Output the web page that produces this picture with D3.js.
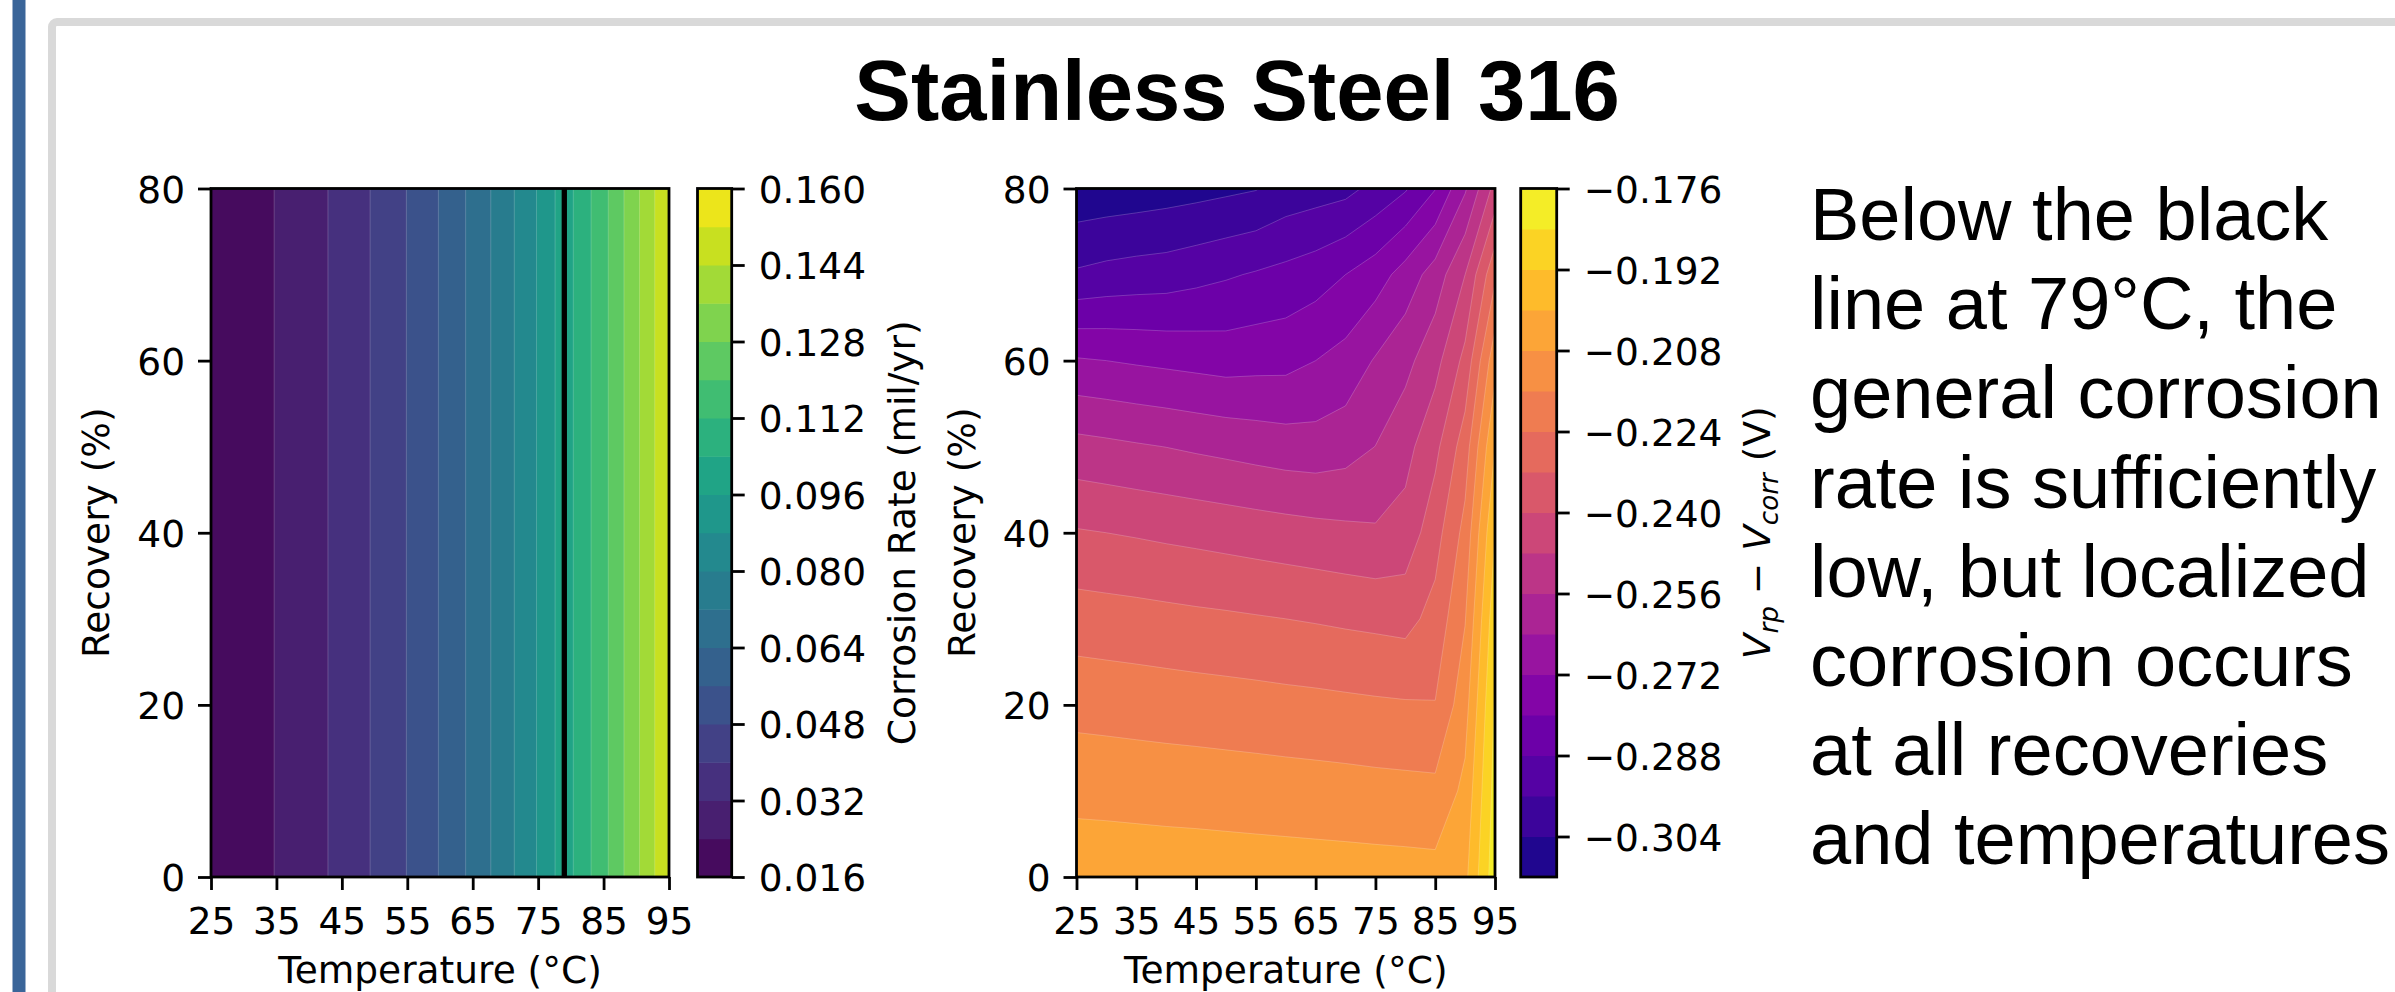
<!DOCTYPE html>
<html><head><meta charset="utf-8">
<script src="https://cdn.jsdelivr.net/npm/d3@7"></script>
<style>body{margin:0;background:#fff;}svg{display:block;}</style>
</head><body>
<svg id="c" width="2395" height="992"></svg>
<script>
// ---------------- data ----------------
const temperatures = [25,30,35,40,45,50,55,60,65,70,75,80,85,90,95];
const recoveries   = [0,10,20,30,40,50,60,70,80];
// general corrosion rate (mil/yr) vs temperature (independent of recovery)
const corrosionRate = [0.0165,0.0200,0.0243,0.0289,0.0343,0.0409,0.0482,0.0564,0.0661,0.0768,0.0886,0.1029,0.1176,0.1343,0.1515];
// Vrp - Vcorr (V); rows = recovery 0..80, columns = temperature 25..95
const vRow00 = [-0.2027,-0.2029,-0.2031,-0.2033,-0.2035,-0.2037,-0.2039,-0.2041,-0.2043,-0.2045,-0.2047,-0.2049,-0.2052,-0.2020,-0.1792];
const vRow10 = [-0.2105,-0.2107,-0.2110,-0.2113,-0.2115,-0.2118,-0.2121,-0.2124,-0.2127,-0.2130,-0.2134,-0.2137,-0.2140,-0.2060,-0.1811];
const vRow20 = [-0.2186,-0.2190,-0.2194,-0.2198,-0.2202,-0.2206,-0.2210,-0.2215,-0.2219,-0.2224,-0.2229,-0.2233,-0.2237,-0.2112,-0.1830];
const vRow30 = [-0.2281,-0.2286,-0.2291,-0.2297,-0.2303,-0.2308,-0.2314,-0.2320,-0.2326,-0.2333,-0.2339,-0.2346,-0.2293,-0.2164,-0.1867];
const vRow40 = [-0.2393,-0.2400,-0.2407,-0.2415,-0.2422,-0.2430,-0.2438,-0.2446,-0.2454,-0.2462,-0.2470,-0.2450,-0.2352,-0.2215,-0.1920];
const vRow50 = [-0.2533,-0.2542,-0.2552,-0.2561,-0.2572,-0.2582,-0.2593,-0.2603,-0.2607,-0.2593,-0.2559,-0.2507,-0.2421,-0.2280,-0.2000];
const vRow60 = [-0.2712,-0.2720,-0.2729,-0.2737,-0.2745,-0.2753,-0.2747,-0.2744,-0.2720,-0.2692,-0.2633,-0.2584,-0.2507,-0.2377,-0.2107];
const vRow70 = [-0.2949,-0.2935,-0.2926,-0.2920,-0.2905,-0.2889,-0.2873,-0.2857,-0.2836,-0.2800,-0.2758,-0.2687,-0.2604,-0.2480,-0.2256];
const vRow80 = [-0.3099,-0.3092,-0.3085,-0.3076,-0.3067,-0.3056,-0.3044,-0.3010,-0.2996,-0.2983,-0.2937,-0.2888,-0.2803,-0.2650,-0.2453];
const vRows = [vRow00,vRow10,vRow20,vRow30,vRow40,vRow50,vRow60,vRow70,vRow80];

const xTicks = [25,35,45,55,65,75,85,95];
const yTicks = [0,20,40,60,80];
const corrTicks = [0.016,0.032,0.048,0.064,0.080,0.096,0.112,0.128,0.144,0.160];
const vTicks = [-0.304,-0.288,-0.272,-0.256,-0.240,-0.224,-0.208,-0.192,-0.176];
const corrLevels = d3.range(19).map(i => +(0.016 + i*0.008).toFixed(3));
const vLevels = d3.range(18).map(i => +(-0.312 + i*0.008).toFixed(3));
const criticalTemp = 79;

const titleText = "Stainless Steel 316";
const noteLines = ["Below the black","line at 79°C, the","general corrosion","rate is sufficiently","low, but localized","corrosion occurs","at all recoveries","and temperatures"];

// ---------------- drawing ----------------
const W = 2395, H = 992;
const plotTop = 188.5, plotBot = 877;
const FONT = "DejaVu Sans", FS = 37.5, LW = 2.8;
const svg = d3.select("#c");
svg.append("rect").attr("width",W).attr("height",H).attr("fill","#fff");
svg.append("rect").attr("x",12.5).attr("y",0).attr("width",13).attr("height",H).attr("fill","#3a6599");
svg.append("rect").attr("x",52).attr("y",22).attr("width",W).attr("height",H).attr("rx",5)
  .attr("fill","none").attr("stroke","#d9d9d9").attr("stroke-width",8);

svg.append("text").attr("x",1237).attr("y",120).attr("text-anchor","middle")
  .attr("font-family","Liberation Sans, Arial, sans-serif").attr("font-weight","bold").attr("font-size",85)
  .text(titleText);

svg.append("g").selectAll("text").data(noteLines).join("text")
  .attr("x",1810).attr("y",(d,i)=>240 + i*89.2)
  .attr("font-family","Liberation Sans, Arial, sans-serif").attr("font-size",74).text(d=>d);

function styleAxis(ax){
  ax.attr("font-family",FONT).attr("font-size",FS);
  ax.select(".domain").remove();
  ax.selectAll("line").attr("stroke","#000").attr("stroke-width",LW);
  ax.selectAll("text").attr("fill","#000");
}

function drawPanel(p){
  const g = svg.append("g");
  const x = d3.scaleLinear().domain([25,95]).range([p.x0,p.x1]);
  const y = d3.scaleLinear().domain([0,80]).range([plotBot,plotTop]);
  const clipId = "clip"+p.id;
  svg.append("clipPath").attr("id",clipId).append("rect")
    .attr("x",p.x0).attr("y",plotTop).attr("width",p.x1-p.x0).attr("height",plotBot-plotTop);
  const nx = p.xVals.length, ny = p.yVals.length;
  const gx = d3.scaleLinear().domain(p.xVals.map((_,i)=>i+0.5)).range(p.xVals).clamp(true);
  const gy = d3.scaleLinear().domain(p.yVals.map((_,i)=>i+0.5)).range(p.yVals).clamp(true);
  const path = d3.geoPath(d3.geoTransform({point(px,py){ this.stream.point(x(gx(px)), y(gy(py))); }}));
  const nb = p.levels.length-1;
  const color = i => p.interp((i+0.5)/nb);
  const cs = d3.contours().size([nx,ny]).thresholds(p.levels.slice(0,nb))(p.values);
  g.append("g").attr("clip-path",`url(#${clipId})`).selectAll("path").data(cs).join("path")
    .attr("d",path).attr("fill",(d,i)=>color(i))
    .attr("stroke","#fff").attr("stroke-opacity",0.22).attr("stroke-width",0.9);
  if (p.vline!=null){
    g.append("line").attr("x1",x(p.vline)).attr("x2",x(p.vline)).attr("y1",plotTop).attr("y2",plotBot)
      .attr("stroke","#000").attr("stroke-width",5.3);
  }
  g.append("rect").attr("x",p.x0).attr("y",plotTop).attr("width",p.x1-p.x0).attr("height",plotBot-plotTop)
    .attr("fill","none").attr("stroke","#000").attr("stroke-width",LW);
  const ax = g.append("g").attr("transform",`translate(0,${plotBot})`)
    .call(d3.axisBottom(x).tickValues(xTicks).tickSize(13).tickPadding(17).tickFormat(d3.format("d")));
  styleAxis(ax);
  const ay = g.append("g").attr("transform",`translate(${p.x0},0)`)
    .call(d3.axisLeft(y).tickValues(yTicks).tickSize(13).tickPadding(13).tickFormat(d3.format("d")));
  styleAxis(ay); ay.selectAll("text").attr("dy","0.36em");
  g.append("text").attr("x",(p.x0+p.x1)/2).attr("y",983).attr("text-anchor","middle")
    .attr("font-family",FONT).attr("font-size",FS).text("Temperature (°C)");
  g.append("text").attr("transform",`translate(${p.yLabelX},${(plotTop+plotBot)/2}) rotate(-90)`)
    .attr("text-anchor","middle").attr("font-family",FONT).attr("font-size",FS).text("Recovery (%)");
  // colorbar
  const cy = d3.scaleLinear().domain([p.levels[0],p.levels[nb]]).range([plotBot,plotTop]);
  const cb = svg.append("g");
  cb.selectAll("rect").data(d3.range(nb)).join("rect")
    .attr("x",p.cb0).attr("width",p.cb1-p.cb0)
    .attr("y",i=>cy(p.levels[i+1])).attr("height",i=>cy(p.levels[i])-cy(p.levels[i+1])+0.5)
    .attr("fill",i=>color(i));
  cb.append("rect").attr("x",p.cb0).attr("y",plotTop).attr("width",p.cb1-p.cb0).attr("height",plotBot-plotTop)
    .attr("fill","none").attr("stroke","#000").attr("stroke-width",LW);
  const ac = cb.append("g").attr("transform",`translate(${p.cb1},0)`)
    .call(d3.axisRight(cy).tickValues(p.cbTicks).tickSize(13).tickPadding(14).tickFormat(d3.format(".3f")));
  styleAxis(ac); ac.selectAll("text").attr("dy","0.36em");
  return cb;
}

drawPanel({id:"L", x0:211, x1:669, xVals:temperatures, yVals:[0,80],
  values:[...corrosionRate,...corrosionRate], levels:corrLevels, interp:d3.interpolateViridis,
  vline:criticalTemp, yLabelX:109, cb0:697.5, cb1:731.7, cbTicks:corrTicks});

drawPanel({id:"R", x0:1076.5, x1:1495, xVals:temperatures, yVals:recoveries,
  values:vRows.flat(), levels:vLevels, interp:d3.interpolatePlasma,
  vline:null, yLabelX:975, cb0:1520.7, cb1:1556.7, cbTicks:vTicks});

// colorbar labels
svg.append("text").attr("transform",`translate(915,${(plotTop+plotBot)/2}) rotate(-90)`)
  .attr("text-anchor","middle").attr("font-family",FONT).attr("font-size",FS).text("Corrosion Rate (mil/yr)");
const vl = svg.append("text").attr("transform",`translate(1770,${(plotTop+plotBot)/2}) rotate(-90)`)
  .attr("text-anchor","middle").attr("font-family",FONT).attr("font-size",FS);
vl.append("tspan").attr("font-style","italic").text("V");
vl.append("tspan").attr("font-style","italic").attr("font-size",FS*0.7).attr("dy",FS*0.22).text("rp");
vl.append("tspan").attr("dy",-FS*0.22).text(" \u2212 ");
vl.append("tspan").attr("font-style","italic").text("V");
vl.append("tspan").attr("font-style","italic").attr("font-size",FS*0.7).attr("dy",FS*0.22).text("corr");
vl.append("tspan").attr("dy",-FS*0.22).text(" (V)");
</script>
</body></html>
